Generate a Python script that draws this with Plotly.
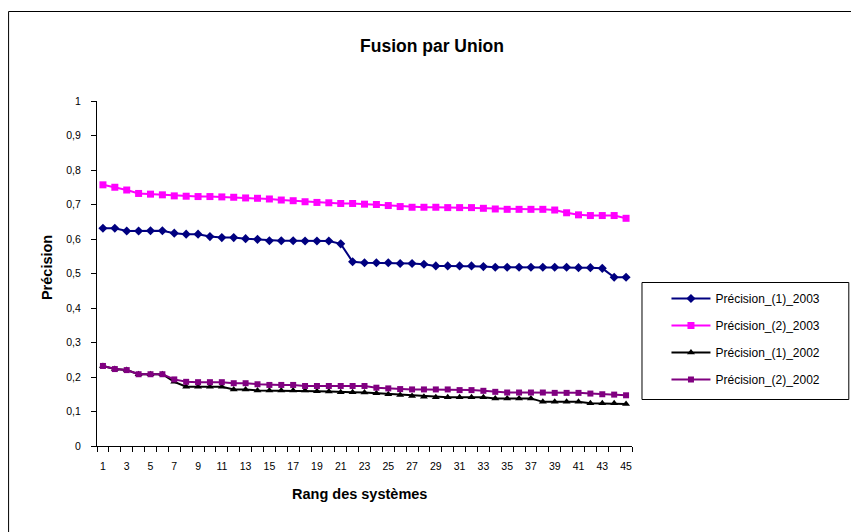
import plotly.graph_objects as go

rang = list(range(1, 46))

precision_1_2003 = [0.631, 0.631, 0.623, 0.623, 0.624, 0.624, 0.617, 0.614, 0.614, 0.607,
                    0.604, 0.604, 0.601, 0.599, 0.595, 0.595, 0.595, 0.594, 0.594, 0.594,
                    0.586, 0.534, 0.531, 0.531, 0.531, 0.529, 0.529, 0.527, 0.522, 0.522,
                    0.522, 0.522, 0.520, 0.518, 0.518, 0.518, 0.518, 0.518, 0.518, 0.518,
                    0.517, 0.517, 0.515, 0.489, 0.489]

precision_2_2003 = [0.757, 0.750, 0.742, 0.732, 0.730, 0.728, 0.725, 0.724, 0.723, 0.723,
                    0.722, 0.721, 0.719, 0.718, 0.716, 0.713, 0.711, 0.708, 0.706, 0.705,
                    0.703, 0.703, 0.701, 0.700, 0.697, 0.694, 0.692, 0.692, 0.692, 0.691,
                    0.691, 0.691, 0.689, 0.687, 0.686, 0.686, 0.686, 0.686, 0.684, 0.676,
                    0.670, 0.668, 0.668, 0.668, 0.660]

precision_1_2002 = [0.232, 0.223, 0.220, 0.208, 0.208, 0.208, 0.186, 0.172, 0.172, 0.172,
                    0.172, 0.164, 0.164, 0.161, 0.161, 0.161, 0.161, 0.161, 0.159, 0.158,
                    0.156, 0.156, 0.155, 0.153, 0.150, 0.148, 0.145, 0.143, 0.141, 0.141,
                    0.141, 0.141, 0.141, 0.138, 0.138, 0.138, 0.138, 0.128, 0.128, 0.128,
                    0.128, 0.124, 0.124, 0.124, 0.122]

precision_2_2002 = [0.232, 0.223, 0.220, 0.208, 0.208, 0.208, 0.193, 0.186, 0.185, 0.185,
                    0.185, 0.182, 0.182, 0.179, 0.177, 0.177, 0.177, 0.174, 0.174, 0.174,
                    0.174, 0.174, 0.174, 0.169, 0.167, 0.165, 0.164, 0.164, 0.164, 0.164,
                    0.162, 0.162, 0.160, 0.157, 0.155, 0.155, 0.155, 0.155, 0.154, 0.154,
                    0.154, 0.152, 0.150, 0.149, 0.147]

series_names = ["Précision_(1)_2003", "Précision_(2)_2003", "Précision_(1)_2002", "Précision_(2)_2002"]
series_values = [precision_1_2003, precision_2_2003, precision_1_2002, precision_2_2002]
colors = ["#000080", "#FF00FF", "#000000", "#800080"]
symbols = ["diamond", "square", "triangle-up", "square"]
sizes = [7, 7, 7, 6]

x_tickvals = list(range(1, 46, 2))
y_tickvals = [i / 10 for i in range(0, 11)]

FONT = "Liberation Sans, Arial, sans-serif"

fig = go.Figure()
for i, (name, vals) in enumerate(zip(series_names, series_values)):
    fig.add_trace(go.Scatter(
        x=rang, y=vals, name=name, mode="lines+markers",
        line=dict(color=colors[i], width=2),
        marker=dict(symbol=symbols[i], size=sizes[i], color=colors[i]),
        legendgroup=f"g{i}",
    ))

W, H = 851, 532
L = 97
T = 101
B = H - 446
R = W - 632.5
pw = W - L - R
ph = H - T - B

def px_x(p):
    return (p - L) / pw

def px_y(p):
    return (H - B - p) / ph

fig.update_layout(
    width=W, height=H,
    margin=dict(l=L, r=R, t=T, b=B, pad=0),
    paper_bgcolor="white", plot_bgcolor="white",
    separators=", ",
    font=dict(family=FONT, size=10, color="black"),
    showlegend=True,
    title=dict(text="<b>Fusion par Union</b>", x=432 / W, xanchor="center",
               y=1 - 46 / H, yanchor="middle", yref="container",
               font=dict(family=FONT, size=17.5, color="black")),
    legend=dict(x=px_x(667), y=px_y(284), xanchor="left", yanchor="top",
                borderwidth=0, bgcolor="rgba(0,0,0,0)",
                font=dict(family=FONT, size=12, color="black"),
                traceorder="grouped", tracegroupgap=8, itemwidth=39),
    xaxis=dict(range=[0.5, 45.5], tickmode="array", tickvals=x_tickvals,
               ticks="", showgrid=False, zeroline=False, ticklabelstandoff=10,
               showline=True, linecolor="black", linewidth=1,
               tickfont=dict(family=FONT, size=10.5, color="black"),
               minor=dict(tickmode="linear", tick0=0.5, dtick=1, ticks="outside",
                          ticklen=5, tickcolor="black", showgrid=False)),
    yaxis=dict(range=[0, 1], tickmode="array", tickvals=y_tickvals,
               ticks="outside", ticklen=5, tickcolor="black", ticklabelstandoff=8,
               showgrid=False, zeroline=False,
               showline=True, linecolor="black", linewidth=1,
               tickfont=dict(family=FONT, size=10.5, color="black")),
    annotations=[
        dict(text="<b>Rang des systèmes</b>", x=px_x(360), y=px_y(494),
             xref="paper", yref="paper", showarrow=False,
             xanchor="center", yanchor="middle",
             font=dict(family=FONT, size=14.5, color="black")),
        dict(text="<b>Précision</b>", x=px_x(47), y=px_y(268),
             xref="paper", yref="paper", showarrow=False, textangle=-90,
             xanchor="center", yanchor="middle",
             font=dict(family=FONT, size=14.5, color="black")),
    ],
    shapes=[
        dict(type="rect", xref="paper", yref="paper",
             x0=px_x(8.5), x1=px_x(900), y0=px_y(600), y1=px_y(11.5),
             line=dict(color="black", width=1), fillcolor="rgba(0,0,0,0)", layer="below"),
        dict(type="rect", xref="paper", yref="paper",
             x0=px_x(642.5), x1=px_x(849.5), y0=px_y(399.5), y1=px_y(282.5),
             line=dict(color="black", width=1), fillcolor="white", layer="below"),
    ],
)

fig.write_html(
    "out.html",
    config={"displayModeBar": False},
    post_script="document.body.style.margin='0';document.body.style.overflow='hidden';",
)
